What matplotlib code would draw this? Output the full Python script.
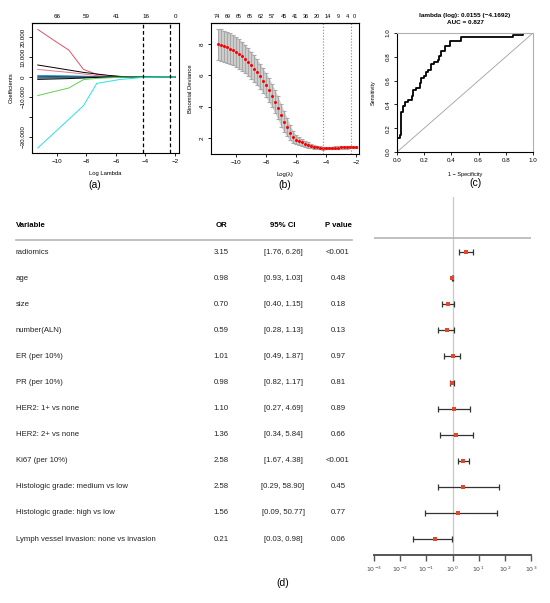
import matplotlib
matplotlib.use("Agg")
import matplotlib.pyplot as plt
import numpy as np

plt.rcParams['font.family'] = ['Liberation Sans', 'DejaVu Sans']

W, H = 550, 603

# ---- (a) lasso coefficient paths ----
path_loglam = [-11.3, -10.2, -9.2, -8.2, -7.3, -6.5, -5.7, -5.0, -4.2, -3.0, -2.0]
coef_paths = {
    'red1':   [23800, 18300, 13500, 3800, 1300, 600, 200, 50, 0, 0, 0],
    'black1': [6000, 4700, 3500, 2300, 1500, 800, 300, 80, 0, 0, 0],
    'red2':   [3800, 3000, 2300, 1500, 700, 300, 100, 0, 0, 0, 0],
    'blue':   [800, 700, 600, 400, 200, 100, 0, 0, 0, 0, 0],
    'navy':   [300, 250, 200, 150, 80, 30, 0, 0, 0, 0, 0],
    'grey':   [-300, -250, -200, -150, -80, -30, 0, 0, 0, 0, 0],
    'teal':   [-600, -500, -400, -300, -150, -60, 0, 0, 0, 0, 0],
    'black2': [-1200, -1000, -800, -500, -200, -100, 0, 0, 0, 0, 0],
    'green':  [-9300, -7300, -5500, -1300, -700, -400, -150, -50, 0, 0, 0],
    'cyan':   [-35500, -28000, -21200, -14300, -3200, -2200, -1200, -800, -200, 0, 0],
}
coef_colors = {'red1': '#DF536B', 'black1': 'black', 'red2': '#E8788A', 'blue': '#2297E6',
               'navy': '#1F4E79', 'grey': '#707070', 'teal': '#17606B', 'black2': 'black',
               'green': '#61D04F', 'cyan': '#28E2E5'}
a_top_pos = [-10, -8, -6, -4, -2]
a_top_lab = ['66', '59', '41', '16', '0']
a_yticks = [20000, 10000, 0, -10000, -20000, -30000]
a_ylabels = ['20.000', '10.000', '0', '\u221210.000', '', '\u221230.000']
lam_min, lam_1se = -4.17, -2.33

# ---- (b) cross-validation deviance ----
cv_loglam = [-11.2, -11.0, -10.8, -10.6, -10.4, -10.2, -10.0, -9.8, -9.6, -9.4, -9.2, -9.0,
             -8.8, -8.6, -8.4, -8.2, -8.0, -7.8, -7.6, -7.4, -7.2, -7.0, -6.8, -6.6, -6.4,
             -6.2, -6.0, -5.8, -5.6, -5.4, -5.2, -5.0, -4.8, -4.6, -4.4, -4.2, -4.0, -3.8,
             -3.6, -3.4, -3.2, -3.0, -2.8, -2.6, -2.4, -2.2, -2.0]
cv_mean = [7.98, 7.93, 7.86, 7.78, 7.70, 7.61, 7.51, 7.37, 7.22, 7.05, 6.86, 6.65,
           6.43, 6.19, 5.93, 5.66, 5.37, 5.05, 4.70, 4.33, 3.92, 3.45, 3.05, 2.70, 2.35,
           2.06, 1.89, 1.80, 1.72, 1.64, 1.56, 1.50, 1.44, 1.40, 1.37, 1.35, 1.35, 1.36,
           1.37, 1.38, 1.39, 1.40, 1.41, 1.41, 1.42, 1.42, 1.42]
cv_se = [1.0, 1.0, 1.0, 0.99, 0.98, 0.97, 0.96,
         0.95, 0.93, 0.91, 0.89, 0.87, 0.85, 0.83, 0.81, 0.79, 0.77,
         0.76, 0.75, 0.74, 0.73, 0.72, 0.68, 0.60, 0.50, 0.40, 0.30,
         0.25, 0.22, 0.19, 0.17, 0.15, 0.13, 0.11, 0.10, 0.09, 0.08,
         0.08, 0.08, 0.08, 0.08, 0.08, 0.08, 0.08, 0.08, 0.08, 0.08]
b_top_pos = [-11.27, -10.53, -9.8, -9.07, -8.33, -7.6, -6.8, -6.07, -5.33, -4.6, -3.87, -3.2, -2.6, -2.13]
b_top_lab = ['74', '69', '65', '65', '62', '57', '45', '41', '36', '20', '14', '9', '4', '0']

# ---- (c) ROC ----
roc_fpr = [0, 0, 0.02, 0.02, 0.03, 0.03, 0.045, 0.045, 0.06, 0.06, 0.08, 0.08, 0.11, 0.11,
           0.12, 0.12, 0.14, 0.14, 0.17, 0.17, 0.18, 0.18, 0.20, 0.20, 0.21, 0.21, 0.23, 0.23,
           0.25, 0.25, 0.27, 0.27, 0.30, 0.30, 0.31, 0.31, 0.32, 0.32, 0.35, 0.35, 0.39, 0.39,
           0.47, 0.47, 0.85, 0.85, 0.93, 0.93, 1.0]
roc_tpr = [0, 0.12, 0.12, 0.14, 0.14, 0.34, 0.34, 0.39, 0.39, 0.42, 0.42, 0.44, 0.44, 0.47,
           0.47, 0.52, 0.52, 0.54, 0.54, 0.58, 0.58, 0.62, 0.62, 0.64, 0.64, 0.67, 0.67, 0.69,
           0.69, 0.74, 0.74, 0.76, 0.76, 0.77, 0.77, 0.81, 0.81, 0.85, 0.85, 0.89, 0.89, 0.93,
           0.93, 0.965, 0.965, 0.98, 0.98, 1.0, 1.0]

# ---- (d) multivariable logistic regression ----
variables = ['radiomics', 'age', 'size', 'number(ALN)', 'ER (per 10%)', 'PR (per 10%)',
             'HER2: 1+ vs none', 'HER2: 2+ vs none', 'Ki67 (per 10%)',
             'Histologic grade: medium vs low', 'Histologic grade: high vs low',
             'Lymph vessel invasion: none vs invasion']
odds = [3.15, 0.98, 0.70, 0.59, 1.01, 0.98, 1.10, 1.36, 2.58, 2.58, 1.56, 0.21]
ci_lo = [1.76, 0.93, 0.40, 0.28, 0.49, 0.82, 0.27, 0.34, 1.67, 0.29, 0.09, 0.03]
ci_hi = [6.26, 1.03, 1.15, 1.13, 1.87, 1.17, 4.69, 5.84, 4.38, 58.90, 50.77, 0.98]
pvals = ['<0.001', '0.48', '0.18', '0.13', '0.97', '0.81', '0.89', '0.66', '<0.001',
         '0.45', '0.77', '0.06']
forest_ticks = [1e-3, 1e-2, 1e-1, 1e0, 1e1, 1e2, 1e3]
forest_labels = ['$10^{-3}$', '$10^{-2}$', '$10^{-1}$', '$10^{0}$', '$10^{1}$', '$10^{2}$', '$10^{3}$']


def ax_px(x0, y0, x1, y1):
    return fig.add_axes([x0 / W, 1 - y1 / H, (x1 - x0) / W, (y1 - y0) / H])


def r_style(ax, fs=4.5):
    for s in ax.spines.values():
        s.set_linewidth(0.8)
    ax.tick_params(direction='out', length=2.5, width=0.6, labelsize=fs, pad=2)


fig = plt.figure(figsize=(W / 100, H / 100), dpi=100)

# (a)
axa = ax_px(32, 23, 179, 153)
for k, vals in coef_paths.items():
    axa.plot(path_loglam, vals, color=coef_colors[k], lw=0.7)
axa.axvline(lam_min, color='black', ls=(0, (3, 2)), lw=0.9)
axa.axvline(lam_1se, color='black', ls=(0, (3, 2)), lw=0.9)
axa.set_xlim(-11.69, -1.73)
axa.set_ylim(-38000, 27000)
axa.set_xticks([-10, -8, -6, -4, -2])
axa.set_xticklabels(['\u221210', '\u22128', '\u22126', '\u22124', '\u22122'])
axa.set_yticks(a_yticks)
axa.set_yticklabels(a_ylabels, rotation=90, va='center')
r_style(axa)
axa.set_xlabel('Log Lambda', fontsize=4.2, labelpad=5)
axa.set_ylabel('Coefficients', fontsize=4.2, labelpad=5)
ta = axa.secondary_xaxis('top')
ta.set_xticks(a_top_pos)
ta.set_xticklabels(a_top_lab)
ta.tick_params(length=0, labelsize=4.5, pad=3)
fig.text(95 / W, 1 - 185 / H, '(a)', fontsize=7.5, ha='center', va='center')

# (b)
axb = ax_px(211, 23, 359, 154)
lo = [m - s for m, s in zip(cv_mean, cv_se)]
hi = [m + s for m, s in zip(cv_mean, cv_se)]
axb.fill_between(cv_loglam, lo, hi, color='#CFCFCF', lw=0)
axb.errorbar(cv_loglam, cv_mean, yerr=cv_se, fmt='none', ecolor='#A8A8A8',
             elinewidth=0.8, capsize=1.6, capthick=0.8)
axb.plot(cv_loglam, cv_mean, 'o', color='red', ms=2.2, mew=0)
axb.axvline(lam_min, color='#888888', ls=':', lw=0.8)
axb.axvline(lam_1se, color='#888888', ls=':', lw=0.8)
axb.set_xlim(-11.67, -1.8)
axb.set_ylim(0.98, 9.34)
axb.set_xticks([-10, -8, -6, -4, -2])
axb.set_xticklabels(['\u221210', '\u22128', '\u22126', '\u22124', '\u22122'])
axb.set_yticks([2, 4, 6, 8])
axb.set_yticklabels(['2', '4', '6', '8'], rotation=90, va='center')
r_style(axb)
axb.set_xlabel('Log(\u03bb)', fontsize=4.2, labelpad=5)
axb.set_ylabel('Binomial Deviance', fontsize=4.2, labelpad=5)
tb = axb.secondary_xaxis('top')
tb.set_xticks(b_top_pos)
tb.set_xticklabels(b_top_lab)
tb.tick_params(length=0, labelsize=4.0, pad=3)
fig.text(285 / W, 1 - 185 / H, '(b)', fontsize=7.5, ha='center', va='center')

# (c)
axc = ax_px(397, 33, 533, 152)
axc.plot([0, 1], [0, 1], color='#A0A0A0', lw=0.6)
axc.plot(roc_fpr, roc_tpr, color='black', lw=1.3)
axc.set_xlim(0, 1)
axc.set_ylim(0, 1)
axc.set_xticks([0, 0.2, 0.4, 0.6, 0.8, 1.0])
axc.set_xticklabels(['0.0', '0.2', '0.4', '0.6', '0.8', '1.0'])
axc.set_yticks([0, 0.2, 0.4, 0.6, 0.8, 1.0])
axc.set_yticklabels(['0.0', '0.2', '0.4', '0.6', '0.8', '1.0'], rotation=90, va='center')
r_style(axc)
axc.spines['top'].set_color('#B0B0B0')
axc.spines['right'].set_color('#B0B0B0')
axc.set_xlabel('1 \u2212 Specificity', fontsize=4.0, labelpad=6)
axc.set_ylabel('Sensitivity', fontsize=4.0, labelpad=7)
fig.text(465 / W, 1 - 15 / H, 'lambda (log): 0.0155 (\u22124.1692)', fontsize=4.6,
         fontweight='bold', ha='center', va='center')
fig.text(465 / W, 1 - 23 / H, 'AUC = 0.827', fontsize=4.6, fontweight='bold',
         ha='center', va='center')
fig.text(475 / W, 1 - 183 / H, '(c)', fontsize=7.5, ha='center', va='center')

# (d) table
row0, step = 252, 26.1
y_top = (197 - row0) / step
y_bot = (555 - row0) / step
axt = ax_px(0, 197, 360, 555)
axt.set_xlim(0, 360)
axt.set_ylim(y_bot, y_top)
axt.axis('off')
fs = 5.6
axt.text(16, -1, 'Variable', fontsize=fs, fontweight='bold', ha='left', va='center')
axt.text(221, -1, 'OR', fontsize=fs, fontweight='bold', ha='center', va='center')
axt.text(283, -1, '95% CI', fontsize=fs, fontweight='bold', ha='center', va='center')
axt.text(338, -1, 'P value', fontsize=fs, fontweight='bold', ha='center', va='center')
axt.plot([16, 352], [-0.46, -0.46], color='#B5B5B5', lw=1.2)
for i, v in enumerate(variables):
    axt.text(16, i, v, fontsize=fs, ha='left', va='center', color='#222222')
    axt.text(221, i, f'{odds[i]:.2f}', fontsize=fs, ha='center', va='center', color='#222222')
    axt.text(283, i, f'[{ci_lo[i]:.2f}, {ci_hi[i]:.2f}]', fontsize=fs, ha='center',
             va='center', color='#222222')
    axt.text(338, i, pvals[i], fontsize=fs, ha='center', va='center', color='#222222')
fig.text(283 / W, 1 - 583 / H, '(d)', fontsize=7.5, ha='center', va='center')

# (d) forest
axf = ax_px(374, 197, 531, 555)
axf.set_xscale('log')
axf.set_xlim(1e-3, 1e3)
axf.set_ylim(y_bot, y_top)
rows = list(range(len(variables)))
axf.axvline(1, color='#C8C8C8', lw=0.9, zorder=0)
axf.axhline(-0.54, color='#B5B5B5', lw=1.2, zorder=0)
xerr = [[o - l for o, l in zip(odds, ci_lo)], [h - o for o, h in zip(odds, ci_hi)]]
axf.errorbar(odds, rows, xerr=xerr, fmt='none', ecolor='#333333', elinewidth=0.9,
             capsize=2.2, capthick=0.9)
axf.plot(odds, rows, 's', color='#E2462C', ms=3.2, mew=0, zorder=3)
for s in ['top', 'left', 'right']:
    axf.spines[s].set_visible(False)
axf.spines['bottom'].set_color('#555555')
axf.spines['bottom'].set_linewidth(1.4)
axf.set_yticks([])
axf.set_xticks(forest_ticks)
axf.set_xticklabels(forest_labels)
axf.minorticks_off()
axf.tick_params(axis='x', direction='out', length=4, width=1, color='#555555',
                labelsize=4.5, labelcolor='#444444', pad=3)

fig.savefig('out.png', dpi=100)
